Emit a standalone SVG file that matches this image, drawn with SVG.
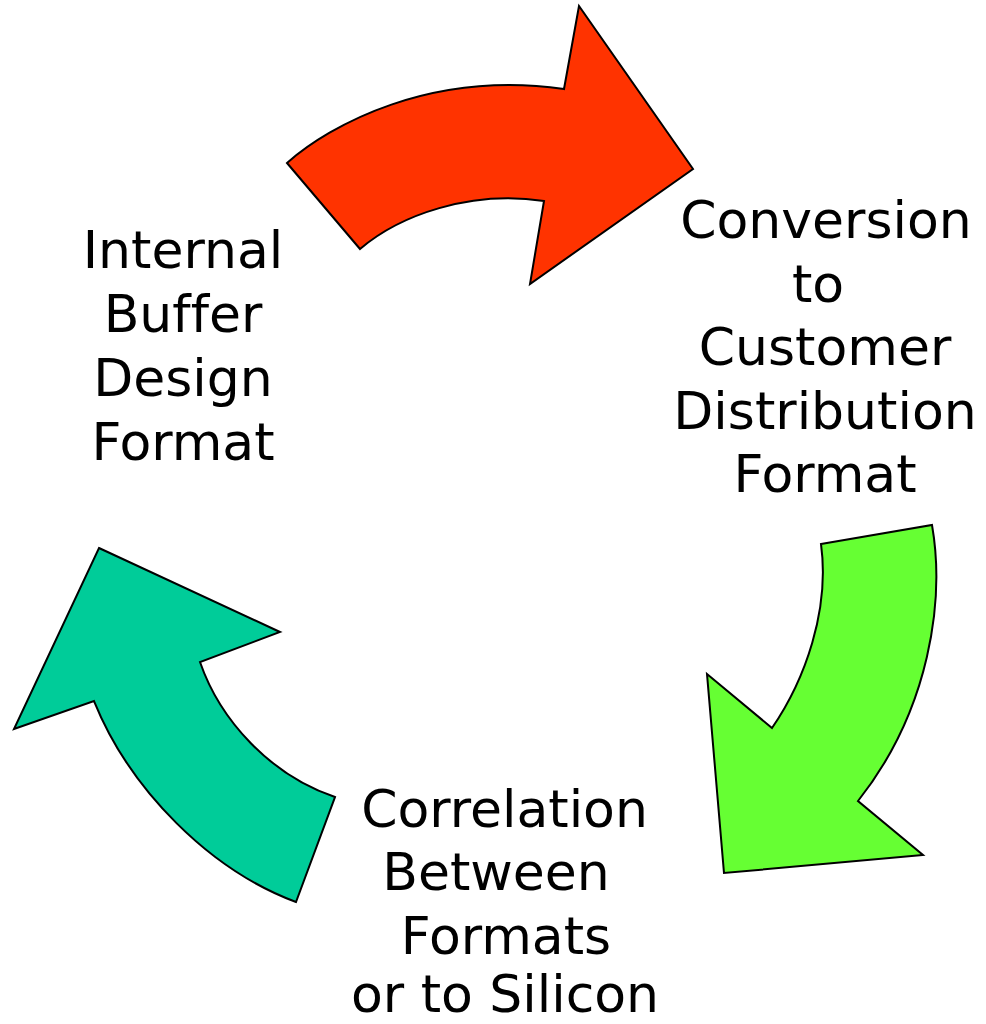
<svg xmlns="http://www.w3.org/2000/svg" width="986" height="1024" viewBox="0 0 986 1024">
<style>
.arrow{stroke:#000;stroke-width:2;stroke-linejoin:miter}
.lbl{font-family:"DejaVu Sans",Verdana,sans-serif;font-size:52px;fill:#000;text-anchor:middle;font-variant-ligatures:none}
</style>
<rect width="986" height="1024" fill="#fff"/>
<g id="connectors">
<path id="arrow-red" class="arrow" fill="#FF3300" d="M287,163 C330,125 430,70 564,89 L579,6 L693,169 L530,284 L544,201 C470,190 400,215 360,249 Z"/>
<path id="arrow-green" class="arrow" fill="#66FF33" d="M821,544 L932,525 C945,600 930,710 858,801 L923,855 L724,873 L707,674 L772,728 C805,680 830,610 821,544 Z"/>
<path id="arrow-teal" class="arrow" fill="#00CC99" d="M99,548 L280,632 L200,662 C220,720 270,775 335,797 L296,902 C210,870 130,790 94,701 L14,729 Z"/>
</g>
<g id="node-internal">
<text class="lbl" x="183" y="268">Internal</text>
<text class="lbl" x="183" y="332">Buffer</text>
<text class="lbl" x="183" y="396">Design</text>
<text class="lbl" x="183" y="460">Format</text>
</g>
<g id="node-conversion">
<text class="lbl" x="826" y="238">Conversion</text>
<text class="lbl" x="818" y="301.5">to</text>
<text class="lbl" x="825" y="365">Customer</text>
<text class="lbl" x="825" y="428.5">Distribution</text>
<text class="lbl" x="825" y="492">Format</text>
</g>
<g id="node-correlation">
<text class="lbl" x="504.5" y="826.5">Correlation</text>
<text class="lbl" x="496" y="890">Between</text>
<text class="lbl" x="506" y="953.5">Formats</text>
<text class="lbl" x="505" y="1012">or to Silicon</text>
</g>
</svg>
